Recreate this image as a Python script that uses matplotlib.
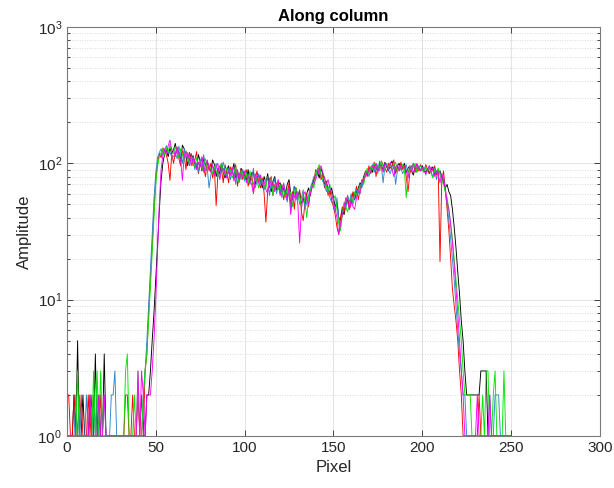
import numpy as np
import matplotlib
matplotlib.use("Agg")
import matplotlib.pyplot as plt
from matplotlib.ticker import LogLocator, LogFormatterMathtext, NullFormatter, MultipleLocator

plt.rcParams['font.family'] = ['Liberation Sans', 'DejaVu Sans']
plt.rcParams['mathtext.default'] = 'regular'

title = "Along column"
xlabel = "Pixel"
ylabel = "Amplitude"
pixel = np.arange(251)

black = [
    1,1,1,1,2,1,5,1,1,2,
    1,1,1,2,1,1,4,1,2,1,
    1,4,1,1,1,1,1,1,1,1,
    1,1,1,1,1,1,1,1,1,1,
    1,1,1,1,1,2,2,3,5,8,
    14,25,45,75,100,118,125,112,130,118,
    126,140,118,122,104,136,128,112,96,120,
    108,114,100,92,116,104,88,110,96,102,
    94,88,106,98,80,92,84,100,86,78,
    90,96,82,86,100,78,84,74,92,88,
    80,76,90,72,84,86,70,78,82,74,
    66,80,72,84,68,62,74,80,64,70,
    72,62,66,58,70,76,60,54,68,64,
    58,62,50,56,48,60,66,58,70,76,
    82,88,78,92,84,70,74,64,60,66,
    56,48,52,40,38,46,42,50,54,48,
    56,60,54,62,66,72,68,80,86,82,
    90,94,86,98,92,88,100,96,90,102,
    94,88,98,104,92,86,96,100,90,94,
    100,86,92,96,88,82,94,98,92,88,
    96,90,86,92,84,90,94,82,88,86,
    88,80,72,66,70,62,58,46,34,24,
    16,11,7,5,3,2,2,2,2,2,
    2,2,2,3,3,3,3,1,1,1,
    1,1,1,1,1,1,1,1,1,1,1]

red = [
    2,2,1,1,2,1,1,1,2,1,
    1,1,2,1,2,1,1,1,1,2,
    1,1,1,1,1,1,1,1,1,1,
    1,1,1,2,2,1,1,2,1,1,
    2,1,2,1,3,4,8,14,25,45,
    75,100,118,110,130,122,115,100,75,118,
    100,118,132,108,96,124,115,90,120,104,
    118,96,106,122,84,98,110,92,80,104,
    88,100,78,92,49,84,96,90,72,98,
    86,72,94,88,80,98,68,82,90,76,
    84,90,68,78,86,60,76,88,72,66,
    78,60,37,62,74,80,58,70,66,74,
    60,70,54,64,56,72,50,62,46,66,
    56,64,44,38,52,60,48,62,68,74,
    90,84,94,76,82,66,72,58,64,54,
    48,42,34,30,40,48,44,52,58,46,
    50,62,58,68,54,64,76,72,88,80,
    96,84,92,102,80,96,88,104,98,92,
    86,100,92,96,106,84,94,88,102,90,
    96,80,62,84,92,100,86,94,88,98,
    92,86,98,90,84,94,88,96,82,90,
    19,74,88,64,46,32,20,12,9,7,
    5,3,2,1,1,1,1,1,1,1,
    1,1,2,1,1,1,1,1,1,1,
    1,1,1,1,1,1,1,1,1,1,1]

blue = [
    1,1,1,1,1,2,1,2,1,1,
    1,2,1,1,1,2,1,2,1,1,
    1,2,1,1,1,2,2,3,1,1,
    1,1,1,1,1,1,1,1,1,1,
    1,1,1,2,3,5,9,16,30,55,
    85,110,120,128,115,125,135,118,122,110,
    112,120,108,134,116,100,128,110,118,96,
    104,112,90,100,86,108,94,116,88,92,
    66,82,96,90,100,84,78,94,102,88,
    80,92,76,86,94,70,88,82,76,90,
    74,86,80,70,78,92,66,74,84,70,
    76,64,70,80,58,72,66,78,60,68,
    66,56,72,60,52,64,44,58,68,54,
    62,50,56,64,46,52,58,66,72,80,
    78,92,86,80,74,70,62,68,56,52,
    50,44,56,40,34,42,50,46,58,52,
    60,50,56,64,60,70,66,78,84,88,
    80,92,98,86,100,84,104,94,72,96,
    100,90,84,94,98,70,88,96,92,84,
    90,98,84,94,88,100,92,86,96,90,
    88,94,82,90,96,86,80,92,76,88,
    86,76,80,62,50,38,28,20,14,9,
    6,4,3,2,2,1,1,1,1,1,
    1,1,1,1,1,1,1,1,2,1,
    1,2,2,2,1,1,1,1,1,1,1]

green = [
    1,1,1,1,1,1,3,1,1,1,
    1,1,1,1,1,3,1,3,1,3,
    1,1,1,1,1,1,1,1,1,1,
    1,1,1,3,4,1,1,1,2,1,
    3,1,1,2,3,4,7,12,22,40,
    70,95,112,120,128,115,130,122,138,120,
    118,132,122,110,128,116,104,124,112,100,
    112,102,94,110,98,104,90,100,108,92,
    98,90,84,96,88,80,94,100,86,82,
    92,84,90,78,86,94,80,72,88,84,
    78,84,72,88,76,70,82,74,66,80,
    72,66,76,62,70,78,58,68,72,64,
    70,60,64,56,66,58,62,48,60,66,
    54,58,48,60,52,40,56,62,70,66,
    80,90,98,84,76,80,68,62,70,60,
    54,58,46,36,32,42,52,48,44,50,
    56,52,62,58,66,60,74,70,82,92,
    86,94,90,100,92,98,88,104,94,90,
    98,92,100,88,96,102,86,94,90,98,
    88,56,84,96,90,94,100,86,92,96,
    90,86,94,88,92,84,78,90,86,92,
    82,76,70,62,56,46,36,28,20,14,
    10,7,5,3,2,2,2,2,1,1,
    1,1,1,1,2,1,3,3,1,1,
    2,3,1,1,1,1,3,1,1,1,1]

magenta = [
    1,1,1,1,1,1,1,1,1,1,
    1,1,1,2,1,1,1,1,2,1,
    1,2,1,1,1,1,1,1,1,1,
    1,1,1,1,1,1,1,1,1,1,
    3,1,3,2,1,2,2,2,3,5,
    10,22,50,90,115,128,118,135,148,125,
    126,112,130,120,106,75,114,122,108,118,
    96,110,104,90,102,94,112,86,98,106,
    92,86,98,82,94,100,76,88,92,84,
    78,88,82,94,74,86,90,76,84,80,
    88,72,80,76,70,60,84,78,72,82,
    70,74,64,60,78,68,72,62,70,76,
    58,64,70,62,54,66,42,60,56,62,
    50,26,46,58,62,54,50,60,66,70,
    76,82,90,96,86,78,70,76,66,60,
    52,46,40,30,36,42,48,56,52,46,
    54,48,46,56,64,60,72,76,80,86,
    90,86,96,92,100,88,94,98,86,100,
    96,92,102,90,80,94,98,88,96,92,
    94,88,78,92,96,86,90,100,92,88,
    94,88,84,90,96,86,92,80,88,84,
    72,84,76,66,52,46,36,26,18,12,
    8,5,3,2,1,1,1,1,1,1,
    1,2,1,1,1,1,1,1,2,1,
    1,1,1,1,1,1,1,1,1,1,1]

series = [black, red, blue, green, magenta]
colors = ['#000000', '#ff0000', '#2f86c8', '#00e600', '#ff00ff']

fig = plt.figure(figsize=(6.14, 4.88), dpi=100)
ax = fig.add_axes([0.109, 0.1066, 0.868, 0.838])

for vals, c in zip(series, colors):
    ax.plot(pixel, vals, color=c, lw=0.65)

ax.set_yscale('log')
ax.set_xlim(0, 300)
ax.set_ylim(1, 1000)
ax.xaxis.set_major_locator(MultipleLocator(50))
ax.yaxis.set_major_locator(LogLocator(base=10, numticks=10))
ax.yaxis.set_minor_locator(LogLocator(base=10, subs=np.arange(2, 10), numticks=20))
ax.yaxis.set_major_formatter(LogFormatterMathtext())
ax.yaxis.set_minor_formatter(NullFormatter())

ax.grid(True, which='major', color='#dedede', lw=0.6, ls='-')
ax.grid(True, which='minor', axis='y', color='#cfcfcf', lw=0.6, ls=(0, (1, 2)))
ax.set_axisbelow(True)

ax.tick_params(which='both', direction='in', top=True, right=True,
               colors='#262626', labelcolor='#262626', labelsize=11, width=0.6)
ax.tick_params(which='major', length=4)
ax.tick_params(which='minor', length=2.5)
for s in ax.spines.values():
    s.set_color('#7a7a7a')
    s.set_linewidth(0.8)

ax.set_xlabel(xlabel, fontsize=12, color='#262626')
ax.set_ylabel(ylabel, fontsize=12, color='#262626')
ax.set_title(title, fontsize=12, fontweight='bold', pad=4)

fig.savefig('out.png', dpi=100)
